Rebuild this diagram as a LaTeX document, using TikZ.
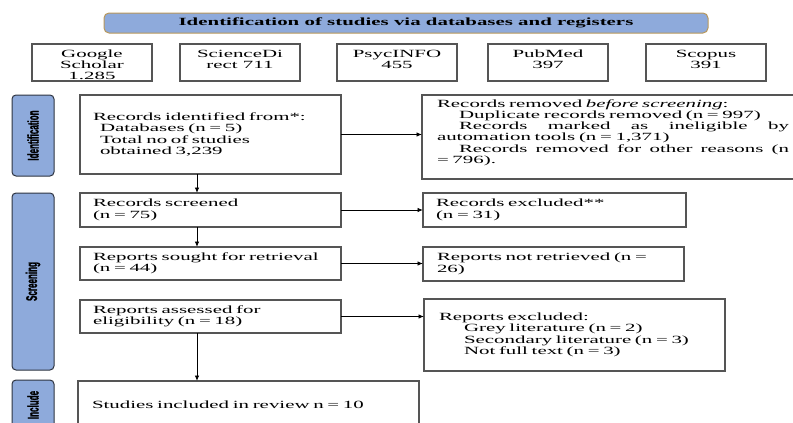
\documentclass[tikz,border=0pt]{standalone}
\usepackage{fontspec}
\setmainfont{Liberation Serif}
\newfontfamily\wideserif{Liberation Serif}[FakeStretch=1.9]
\newfontfamily\labelsans{Liberation Sans}[FakeStretch=0.52, FakeBold=1.2]
\usetikzlibrary{arrows.meta}
\definecolor{bandblue}{HTML}{8EAADB}
\definecolor{goldedge}{HTML}{B8975A}
\definecolor{boxedge}{HTML}{555555}
\definecolor{labeledge}{HTML}{2E3440}
\begin{document}
\begin{tikzpicture}[x=1pt,y=-1pt,
  every node/.style={inner sep=0pt, outer sep=0pt},
  box/.style={draw=boxedge, line width=1.1pt, anchor=north west, fill=white},
  wtext/.style={font={\wideserif\fontsize{11}{11.5}\selectfont}, align=left},
  rtext/.style={font={\wideserif\fontsize{11}{11.2}\selectfont}, align=left},
  dbtext/.style={font={\wideserif\fontsize{11}{11.3}\selectfont}, align=center},
  labbox/.style={draw=labeledge, line width=1pt, fill=bandblue, rounded corners=4pt, anchor=north west, minimum width=42pt},
  labtext/.style={rotate=90, font={\labelsans\bfseries\fontsize{15.5}{15.5}\selectfont}},
  titlebar/.style={draw=goldedge, line width=1pt, fill=bandblue, rounded corners=5pt, anchor=north west,
    font={\wideserif\bfseries\fontsize{11}{11}\selectfont}},
  arr/.style={-{Latex[length=5.5pt,width=4.5pt]}, line width=0.9pt, black}
]
\useasboundingbox (0,0) rectangle (793,423);

% title bar
\node[titlebar, minimum width=604pt, minimum height=20pt] (title) at (104,13) {Identification of studies via databases and registers};

% database boxes
\node[box, dbtext, minimum width=120pt, minimum height=37pt] (gs) at (32,44) {\rule{0pt}{12pt}Google\\Scholar\\1.285};
\node[box, dbtext, minimum width=120pt, minimum height=37pt] (sd) at (180,44) {\rule{0pt}{12pt}ScienceDi\\rect 711\\\mbox{}};
\node[box, dbtext, minimum width=120pt, minimum height=37pt] (psy) at (337,44) {\rule{0pt}{12pt}PsycINFO\\455\\\mbox{}};
\node[box, dbtext, minimum width=120pt, minimum height=37pt] (pm) at (488,44) {\rule{0pt}{12pt}PubMed\\397\\\mbox{}};
\node[box, dbtext, minimum width=120pt, minimum height=37pt] (sc) at (646,44) {\rule{0pt}{12pt}Scopus\\391\\\mbox{}};

% phase labels
\node[labbox, minimum height=81pt] (lid) at (12,95) {};
\node[labtext] (lidt) at (lid.center) {Identification};
\node[labbox, minimum height=177pt] (lsc) at (12,193) {};
\node[labtext] (lsct) at (lsc.center) {Screening};
\node[labbox, minimum height=50pt] (lin) at (12,380) {};
\node[labtext] (lint) at (lin.center) {Include};

% left column
\node[box, wtext, minimum height=79pt, text width=235pt, inner xsep=13pt] (rid) at (80,95)
  {Records identified from*:\\
   \hspace*{7pt}Databases (n = 5)\\
   \hspace*{7pt}Total no of studies\\
   \hspace*{7pt}obtained 3,239};
\node[box, wtext, minimum height=34pt, text width=235pt, inner xsep=13pt] (scr) at (80,193)
  {Records screened\\(n = 75)};
\node[box, wtext, minimum height=33pt, text width=235pt, inner xsep=13pt] (sought) at (80,247)
  {Reports sought for retrieval\\(n = 44)};
\node[box, wtext, minimum height=33pt, text width=235pt, inner xsep=13pt] (assess) at (80,300)
  {Reports assessed for\\eligibility (n = 18)};
\node[box, wtext, minimum height=48pt, text width=313pt, inner xsep=14pt] (incl) at (78,381)
  {Studies included in review n = 10};

% right column
\node[box, rtext, minimum height=84pt, text width=352pt, inner xsep=15pt] (rem) at (422,95)
  {Records removed \textit{before screening}:\\
   \hspace*{22pt}Duplicate records removed (n = 997)\\
   \hspace*{22pt}\hbox to 330pt{Records\hfill marked\hfill as\hfill ineligible\hfill by}\\
   automation tools (n = 1,371)\\
   \hspace*{22pt}\hbox to 330pt{Records\hfill removed\hfill for\hfill other\hfill reasons\hfill (n}\\
   = 796).\\\mbox{}};
\node[box, wtext, minimum height=34pt, text width=237pt, inner xsep=13pt] (exc) at (423,193)
  {Records excluded**\\(n = 31)};
\node[box, wtext, minimum height=34pt, text width=233pt, inner xsep=14pt] (notret) at (423,247)
  {Reports not retrieved (n =\\26)};
\node[box, wtext, minimum height=72pt, text width=271pt, inner xsep=15pt] (repexc) at (424,299)
  {Reports excluded:\\
   \hspace*{25pt}Grey literature (n = 2)\\
   \hspace*{25pt}Secondary literature (n = 3)\\
   \hspace*{25pt}Not full text (n = 3)};

% connectors
\coordinate (vx) at (197,0);
\draw[arr] (rid.south -| vx) -- (scr.north -| vx);
\draw[arr] (scr.south -| vx) -- (sought.north -| vx);
\draw[arr] (assess.south -| vx) -- (incl.north -| vx);
\draw[arr] (rid.east) -- (rid.east -| rem.west);
\draw[arr] (scr.east) -- (scr.east -| exc.west);
\draw[arr] (sought.east) -- (sought.east -| notret.west);
\draw[arr] (assess.east) -- (assess.east -| repexc.west);
\end{tikzpicture}
\end{document}
